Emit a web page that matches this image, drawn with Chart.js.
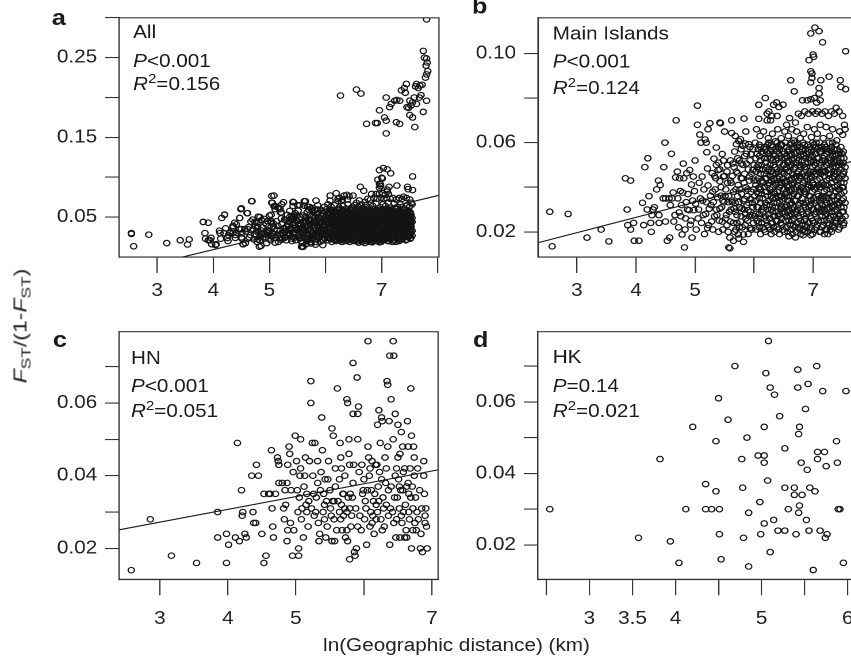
<!DOCTYPE html>
<html>
<head>
<meta charset="utf-8">
<title>Isolation by distance</title>
<script src="https://cdn.jsdelivr.net/npm/chart.js@4.4.1/dist/chart.umd.min.js"></script>
<style>
  html, body { margin: 0; padding: 0; background: #fff; overflow: hidden; }
  body { width: 851px; height: 664px; position: relative; }
  /* the figure is slightly wider than tall, so the whole sheet is stretched */
  #sheet { position: absolute; left: 0; top: 0; width: 780px; height: 664px; transform: scaleX(1.15); transform-origin: 0 0; }
  #sheet canvas { position: absolute; }
  .title { position: absolute; font-family: 'Liberation Sans', Arial, Helvetica, sans-serif; font-size: 18px; color: #222; white-space: nowrap; }
  .title sub { font-size: 0.75em; vertical-align: baseline; position: relative; top: 0.3em; }
  #ytitle { left: 21px; top: 326px; transform: translate(-50%, -50%) rotate(-90deg) scaleX(1.28); }
  #xtitle { left: 397px; top: 645px; transform: translate(-50%, -50%); }
</style>
</head>
<body>
<div id="sheet">
  <canvas id="panelA" width="400" height="300" style="left:0;top:0"></canvas>
  <canvas id="panelB" width="380" height="300" style="left:400px;top:0"></canvas>
  <canvas id="panelC" width="400" height="364" style="left:0;top:300px"></canvas>
  <canvas id="panelD" width="380" height="364" style="left:400px;top:300px"></canvas>
  <div class="title" id="xtitle">ln(Geographic distance) (km)</div>
</div>
<div class="title" id="ytitle"><i>F</i><sub>ST</sub>/(1-<i>F</i><sub>ST</sub>)</div>
<script>
const FONT = "'Liberation Sans', Arial, Helvetica, sans-serif";

// ---- panel statistics ----
const panelLetters = ['a', 'b', 'c', 'd'];
const panelNames = ['All', 'Main Islands', 'HN', 'HK'];
const pValues = ['<0.001', '<0.001', '<0.001', '=0.14'];
const r2Values = ['=0.156', '=0.124', '=0.051', '=0.021'];

// ---- axes ----
const aXTicks = [3, 4, 5, 6, 7, 8];
const aXLabels = ['3', '4', '5', '', '7', ''];
const aYTicks = [0.05, 0.10, 0.15, 0.20, 0.25, 0.30];
const aYLabels = ['0.05', '', '0.15', '', '0.25', ''];
const bXTicks = [3, 4, 5, 6, 7];
const bXLabels = ['3', '4', '5', '', '7'];
const bYTicks = [0.02, 0.04, 0.06, 0.08, 0.10];
const bYLabels = ['0.02', '', '0.06', '', '0.10'];
const cXTicks = [3, 4, 5, 6, 7];
const cXLabels = ['3', '4', '5', '', '7'];
const cYTicks = [0.02, 0.03, 0.04, 0.05, 0.06, 0.07];
const cYLabels = ['0.02', '', '0.04', '', '0.06', ''];
const dXTicks = [2.5, 3, 3.5, 4, 4.5, 5, 5.5, 6];
const dXLabels = ['', '3', '3.5', '4', '', '5', '', '6'];
const dYTicks = [0.02, 0.03, 0.04, 0.05, 0.06, 0.07];
const dYLabels = ['0.02', '', '0.04', '', '0.06', ''];

// ---- regression lines (ends) ----
const allFit = [[2.32, -0.0192], [8.02, 0.0774]];
const mainFit = [[2.34, 0.0151], [7.76, 0.0523]];
const hnFit = [[2.40, 0.0251], [7.09, 0.0416]];

// ---- Main Islands: scattered pairs ----
const mainPoints = [
  [2.54,.029],[2.58,.0135],[2.85,.028],[3.17,.0174],[3.41,.021],[3.54,.0157],[3.82,.044],[3.91,.043],[3.85,.030],[3.86,.023],
  [3.91,.021],[3.96,.024],[3.97,.016],[4.05,.016],[4.11,.033],[4.15,.049],[4.20,.053],[4.13,.023],[4.19,.030],[4.22,.036],
  [4.25,.024],[4.26,.020],[4.27,.0275],[4.29,.030],[4.31,.031],[4.35,.039],[4.38,.043],[4.39,.0275],[4.39,.024],[4.41,.041],
  [4.46,.035],[4.47,.049],[4.49,.060],[4.50,.035],[4.50,.0246],[4.53,.016],[4.56,.035],[4.57,.0174],[4.58,.032],[4.60,.055],
  [4.61,.035],[4.63,.0376],[4.64,.0246],[4.66,.0275],[4.67,.0444],[4.68,.070],[4.70,.047],[4.71,.035],[4.73,.0287],[4.74,.044],
  [4.75,.0383],[4.77,.032],[4.78,.0188],[4.79,.0376],[4.80,.0506],[4.81,.044],[4.82,.013],[4.84,.026],[4.85,.0333],[4.86,.0463],
  [4.88,.0369],[4.90,.0297],[4.91,.0477],[4.92,.0232],[4.94,.0412],[4.95,.0174],[4.97,.0448],[4.98,.0297],[4.99,.0383],[5.00,.052],
  [5.01,.0326],[5.04,.0766],[5.04,.068],[5.05,.026],[5.07,.042],[5.08,.0636],[5.09,.035],[5.10,.060],[5.12,.0448],[5.14,.0275],
  [5.15,.039],[5.17,.0614],[5.19,.0333],[5.20,.0557],[5.21,.0217],[5.21,.0484],[5.22,.0408],[5.24,.0304],[5.25,.0687],[5.26,.0362],
  [5.28,.0246],[5.29,.0463],[5.31,.0333],[5.32,.0528],[5.34,.039],[5.36,.0578],[5.37,.0275],[5.38,.0355],[5.39,.0477],[5.40,.020],
  [5.42,.0427],[5.42,.0304],[5.43,.0687],[5.44,.0362],[5.46,.0549],[5.46,.0246],[5.48,.0448],[5.49,.0333],[5.50,.065],[5.52,.039],
  [5.53,.0275],[5.55,.0499],[5.56,.0333],[5.57,.013],[5.59,.0174],[5.60,.0246],[5.61,.042],[5.62,.0643],[5.63,.0333],[5.64,.0506],
  [5.66,.0304],[5.67,.020],[5.69,.039],[5.70,.0593],[5.71,.0275],[5.72,.0463],[5.73,.0188],[5.74,.0333],[5.74,.0607],[5.76,.039],
  [5.77,.0246],[5.78,.0506],[5.79,.0304],[5.81,.0586],[5.82,.0188],[5.83,.0708],[5.83,.042],[5.84,.0347],[5.86,.065],[5.86,.026],
  [5.87,.0506],[5.89,.039],[5.90,.0297],[5.91,.0593],[5.92,.0448],[5.93,.0217],[5.94,.0347],[5.95,.0549],[5.97,.0275],[5.98,.0477],
  [5.99,.039],[4.72,.022],[4.76,.027],[4.83,.021],[4.87,.030],[4.93,.025],[4.96,.034],[5.02,.021],[5.06,.030],[5.11,.024],
  [5.13,.034],[5.16,.019],[5.18,.028],[5.23,.023],[5.27,.032],[5.30,.021],[5.33,.027],[5.35,.044],[5.41,.025],[5.45,.031],
  [5.47,.021],[5.51,.036],[5.54,.023],[5.58,.029],[5.62,.034],[5.65,.024],[5.68,.029],[5.72,.036],[5.75,.022],[5.78,.027],
  [5.80,.044],[5.85,.023],[5.88,.032],[5.92,.027],[5.96,.021],[5.98,.031],[5.62,.070],[5.42,.069],[5.68,.063],[5.77,.0615],
  [5.85,.0596],[5.93,.058],[5.19,.060],[5.22,.066],[5.59,.0126],[5.65,.016],[5.74,.017],[5.82,.0155],[6.83,.0185],[6.70,.0175],
  [6.96,.0185],[7.25,.019],[7.54,.044],
  [5.30,.038],[5.33,.045],[5.36,.030],[5.40,.051],[5.44,.040],[5.47,.034],[5.50,.045],[5.52,.026],[5.55,.042],[5.57,.036],
  [5.60,.052],[5.61,.030],[5.63,.045],[5.65,.038],[5.67,.056],[5.68,.033],[5.70,.047],[5.71,.024],[5.73,.041],[5.75,.052],
  [5.76,.031],[5.78,.044],[5.79,.037],[5.80,.022],[5.81,.050],[5.82,.034],[5.84,.046],[5.85,.028],[5.86,.040],[5.87,.055],
  [5.88,.036],[5.89,.025],[5.90,.048],[5.91,.033],[5.92,.043],[5.93,.052],[5.94,.029],[5.95,.038],[5.96,.046],[5.97,.033],
  [5.98,.057],[5.99,.024],[6.00,.043],[6.00,.050],[6.01,.036],[6.01,.027],[5.95,.021],[5.90,.019],[5.84,.054],[5.78,.057],
  [5.72,.053],[5.66,.049],[5.60,.043],[5.54,.047],[5.48,.052],[5.42,.048],[5.36,.050],[5.56,.020],[5.69,.021],[5.83,.030],
  [6.96,.109],[7.03,.1116],[7.10,.110],[7.16,.105],[7.55,.101],[6.93,.097],[7.00,.0995],[7.01,.0985],[6.96,.092],[6.98,.091],
  [6.98,.089],[6.96,.087],[7.27,.0896],[7.13,.088],[7.10,.0845],[7.10,.082],[6.62,.088],[6.68,.083],[7.46,.088],[7.47,.085],
  [7.55,.084],[6.82,.079],[6.90,.079],[6.96,.0795],[7.02,.080],[7.06,.078],[7.12,.079],
  [6.08,.077],[6.19,.080],[6.22,.073],[6.25,.074],[6.33,.077],[6.38,.078],[6.42,.076],[6.49,.077],[6.22,.070],[6.28,.070],
  [6.30,.072],[6.39,.072],[6.08,.0707],[6.36,.0606],[6.55,.068],[6.60,.071],[6.64,.066],[6.70,.069],[6.75,.073],[6.80,.072],
  [6.86,.074],[6.92,.073],[6.99,.074],[7.04,.073],[7.08,.074],[7.15,.073],[7.20,.074],[7.26,.072],[7.31,.074],[7.36,.073],
  [7.39,.0756],[7.44,.074],[7.50,.072],[7.53,.068],[7.54,.066],[7.50,.0635],[7.45,.065],[7.40,.061],[7.33,.066],[7.28,.063],
  [7.22,.067],[7.17,.062],[7.12,.068],[7.07,.064],[7.02,.066],[6.97,.0625],[6.90,.067],[6.84,.064],[6.78,.062],[6.72,.065],
  [6.67,.061],[6.58,.063],[6.52,.065],[6.46,.062],[6.40,.066],[6.31,.064],[6.24,.062],[6.16,.065],[6.10,.063],[6.04,.066],[6.02,.060]
];

// ---- Main Islands: dense block, one column of y values per x ----
const mainDenseX = [6.03, 6.07, 6.11, 6.15, 6.19, 6.23, 6.27, 6.31, 6.35, 6.39, 6.43, 6.47, 6.51, 6.55, 6.59, 6.63, 6.67, 6.71, 6.75, 6.79,
  6.83, 6.87, 6.91, 6.95, 6.99, 7.03, 7.07, 7.11, 7.15, 7.19, 7.23, 7.27, 7.31, 7.35, 7.39, 7.43, 7.47, 7.51, 7.54,
  6.05, 6.09, 6.13, 6.17, 6.21, 6.25, 6.29, 6.33, 6.37, 6.41, 6.45, 6.49, 6.53, 6.57, 6.61, 6.65, 6.69, 6.73, 6.77, 6.81,
  6.85, 6.89, 6.93, 6.97, 7.01, 7.05, 7.09, 7.13, 7.17, 7.21, 7.25, 7.29, 7.33, 7.37, 7.41, 7.45, 7.49, 7.52];
const mainDenseY = [
  [.021,.028,.034,.041,.047,.053],
  [.024,.031,.037,.044,.050,.057],
  [.019,.026,.033,.039,.046,.052,.058],
  [.022,.029,.035,.042,.048,.055],
  [.020,.027,.033,.038,.044,.051,.057],
  [.023,.030,.036,.041,.047,.053,.059],
  [.021,.026,.032,.039,.045,.050,.056],
  [.024,.029,.035,.040,.046,.052,.058],
  [.020,.027,.031,.037,.043,.049,.054],
  [.022,.025,.033,.038,.044,.048,.056,.060],
  [.019,.028,.034,.040,.045,.051,.057],
  [.023,.026,.031,.036,.042,.047,.053,.059],
  [.020,.029,.035,.039,.046,.050,.055],
  [.022,.027,.032,.038,.043,.049,.054,.058],
  [.018,.025,.030,.036,.041,.047,.052,.057],
  [.021,.028,.033,.039,.044,.050,.055,.060],
  [.023,.026,.031,.037,.042,.048,.053,.058],
  [.020,.029,.034,.040,.045,.051,.056],
  [.022,.027,.032,.036,.043,.047,.052,.059],
  [.019,.025,.030,.038,.044,.049,.054,.058],
  [.021,.028,.033,.039,.042,.050,.055,.060],
  [.023,.026,.031,.037,.045,.048,.053,.057],
  [.020,.029,.034,.040,.043,.051,.056,.059],
  [.022,.027,.032,.036,.044,.047,.052,.058],
  [.019,.025,.030,.038,.042,.049,.054,.060],
  [.021,.028,.033,.039,.045,.050,.055,.058],
  [.023,.026,.031,.037,.043,.048,.053,.057],
  [.020,.029,.034,.040,.044,.051,.056,.060],
  [.022,.027,.032,.036,.042,.047,.052,.058],
  [.019,.025,.030,.038,.045,.049,.054,.059],
  [.021,.028,.033,.039,.043,.050,.055,.057],
  [.023,.026,.031,.037,.044,.048,.053,.060],
  [.020,.029,.034,.040,.042,.051,.056,.058],
  [.022,.027,.032,.036,.045,.047,.052,.057],
  [.024,.025,.030,.038,.043,.049,.054,.059],
  [.021,.028,.033,.039,.044,.050,.055],
  [.025,.031,.037,.042,.048,.053,.058],
  [.023,.029,.035,.040,.046,.051,.056],
  [.027,.033,.044,.049],
  [.025,.031,.038,.043,.049,.055],
  [.022,.028,.035,.040,.048,.054,.059],
  [.024,.030,.037,.043,.050,.056],
  [.021,.026,.031,.040,.046,.053,.058],
  [.025,.032,.038,.044,.049,.056],
  [.022,.028,.034,.042,.048,.055,.060],
  [.019,.024,.030,.036,.043,.047,.053,.059],
  [.022,.027,.033,.038,.044,.050,.055],
  [.025,.029,.035,.041,.046,.052,.057],
  [.021,.027,.031,.036,.042,.047,.053,.058],
  [.024,.030,.036,.041,.048,.054,.059],
  [.021,.028,.034,.039,.044,.050,.056],
  [.025,.031,.037,.042,.048,.053,.060],
  [.020,.029,.034,.040,.045,.051,.056],
  [.023,.027,.032,.038,.043,.049,.054,.059],
  [.019,.025,.030,.036,.041,.046,.052,.057],
  [.022,.028,.034,.039,.044,.049,.055,.060],
  [.024,.030,.036,.041,.046,.053,.058],
  [.021,.026,.033,.039,.045,.050,.056],
  [.023,.029,.035,.040,.046,.052,.057],
  [.020,.025,.032,.038,.043,.049,.054,.059],
  [.022,.028,.033,.039,.044,.049,.055],
  [.024,.031,.036,.041,.046,.053,.057],
  [.021,.026,.034,.040,.045,.051,.056],
  [.024,.030,.035,.041,.047,.052,.059],
  [.022,.029,.034,.040,.046,.051,.055,.060],
  [.025,.031,.036,.041,.047,.053,.058],
  [.020,.025,.030,.035,.040,.046,.050,.056],
  [.023,.029,.035,.041,.047,.053,.057],
  [.021,.027,.032,.036,.041,.047,.052,.058],
  [.024,.030,.035,.041,.046,.051,.056],
  [.021,.027,.033,.039,.046,.052,.057],
  [.023,.031,.036,.044,.049,.054,.060],
  [.024,.029,.034,.040,.046,.051,.055],
  [.026,.032,.036,.041,.047,.052,.057],
  [.022,.027,.033,.039,.044,.051,.056],
  [.026,.029,.034,.040,.045,.050,.055],
  [.024,.031,.038,.042,.047,.053]
];

// ---- HN ----
const hnPoints = [
  [2.58,.014],[2.86,.028],[3.17,.018],[3.54,.016],[3.85,.030],[3.85,.023],[3.98,.016],[3.98,.024],[4.01,.021],[4.11,.023],
  [4.14,.049],[4.17,.022],[4.20,.036],[4.21,.029],[4.22,.030],[4.25,.024],[4.27,.023],[4.37,.030],[4.35,.040],[4.42,.043],
  [4.45,.040],[4.38,.027],[4.41,.027],[4.50,.024],[4.53,.035],[4.56,.018],[4.53,.016],[4.60,.035],[4.62,.035],[4.64,.047],
  [4.65,.031],[4.66,.026],[4.67,.023],[4.70,.035],[4.73,.045],[4.74,.044],[4.75,.043],[4.75,.038],[4.80,.038],[4.83,.028],
  [4.84,.036],[4.85,.032],[4.87,.022],[4.87,.038],[4.88,.025],[4.88,.043],[4.90,.048],[4.91,.046],[4.93,.036],[4.95,.018],
  [4.97,.025],[4.99,.051],[5.01,.044],[5.03,.030],[5.04,.020],[5.04,.018],[5.05,.034],[5.06,.040],[5.07,.042],[5.07,.050],
  [5.09,.031],[5.11,.023],[5.12,.037],[5.14,.045],[5.15,.032],[5.16,.035],[5.16,.030],[5.19,.033],[5.22,.066],[5.22,.060],
  [5.24,.049],[5.25,.040],[5.26,.035],[5.27,.029],[5.28,.049],[5.29,.030],[5.32,.038],[5.32,.044],[5.34,.022],[5.35,.024],
  [5.36,.036],[5.38,.056],[5.39,.047],[5.40,.030],[5.41,.035],[5.42,.028],[5.43,.039],[5.44,.023],[5.45,.033],[5.47,.039],
  [5.50,.036],[5.51,.031],[5.53,.022],[5.53,.053],[5.54,.033],[5.55,.051],[5.56,.028],[5.56,.033],[5.57,.022],[5.58,.042],
  [5.61,.064],[5.64,.039],[5.64,.030],[5.65,.049],[5.66,.028],[5.67,.042],[5.67,.032],[5.68,.025],[5.69,.035],[5.70,.035],
  [5.72,.031],[5.73,.023],[5.75,.061],[5.75,.030],[5.75,.025],[5.76,.022],[5.76,.060],[5.78,.050],[5.78,.046],[5.79,.031],
  [5.79,.017],[5.79,.043],[5.80,.035],[5.82,.029],[5.83,.034],[5.84,.071],[5.84,.057],[5.85,.043],[5.86,.019],[5.87,.018],
  [5.89,.020],[5.90,.067],[5.91,.050],[5.91,.057],[5.92,.059],[5.94,.029],[5.91,.026],[5.97,.043],[5.98,.035],[5.99,.036],
  [6.01,.028],[6.02,.033],[6.04,.021],[6.06,.048],[6.06,.077],[6.07,.045],[6.08,.040],[6.09,.026],[6.10,.030],[6.11,.036],
  [6.12,.044],[6.13,.029],[6.14,.033],[6.15,.024],[6.17,.043],[6.18,.032],[6.18,.028],[6.19,.043],[6.20,.054],[6.21,.037],
  [6.22,.033],[6.22,.058],[6.24,.049],[6.25,.028],[6.26,.039],[6.26,.056],[6.27,.055],[6.28,.034],[6.30,.026],[6.31,.045],
  [6.32,.038],[6.33,.032],[6.34,.066],[6.35,.065],[6.35,.048],[6.36,.036],[6.37,.055],[6.38,.021],[6.38,.073],[6.39,.031],
  [6.40,.061],[6.42,.030],[6.43,.050],[6.43,.077],[6.44,.073],[6.45,.034],[6.46,.057],[6.47,.023],[6.48,.042],[6.48,.028],
  [6.50,.054],[6.50,.045],[6.51,.039],[6.52,.031],[6.53,.023],[6.53,.046],[6.54,.036],[6.55,.052],[6.56,.027],[6.57,.036],
  [6.57,.048],[6.58,.030],[6.60,.023],[6.60,.042],[6.62,.025],[6.63,.023],[6.64,.055],[6.65,.038],[6.65,.048],[6.66,.035],
  [6.67,.028],[6.68,.042],[6.69,.064],[6.70,.051],[6.70,.020],[6.71,.037],[6.72,.025],[6.73,.048],[6.74,.040],[6.75,.027],
  [6.77,.025],[6.79,.042],[6.80,.028],[6.83,.020],[6.88,.044],[6.88,.040],[6.90,.027],[6.90,.029],[6.91,.031],[6.86,.019],
  [6.93,.020],
  [4.82,.031],[4.92,.027],[4.96,.041],[5.02,.036],[5.08,.028],[5.13,.040],[5.18,.026],[5.20,.044],[5.23,.031],[5.30,.034],
  [5.33,.027],[5.37,.041],[5.42,.032],[5.46,.026],[5.48,.044],[5.52,.029],[5.58,.037],[5.60,.025],[5.62,.033],[5.66,.045],
  [5.70,.029],[5.72,.040],[5.77,.034],[5.81,.026],[5.84,.038],[5.88,.031],[5.93,.041],[5.96,.025],[6.00,.039],[6.03,.031],
  [6.05,.036],[6.09,.042],[6.12,.027],[6.16,.035],[6.20,.030],[6.23,.041],[6.27,.025],[6.29,.031],[6.33,.042],[6.36,.029],
  [6.40,.037],[6.44,.027],[6.46,.040],[6.49,.034],[6.52,.037],[6.55,.029],[6.58,.041],[6.61,.032],[6.63,.037],[6.66,.030],
  [6.69,.034],[6.72,.031],[6.74,.045],[6.76,.034],[6.78,.030],[6.82,.036],[6.85,.031],[6.89,.035],[6.92,.026],[6.84,.024]
];

// ---- HK ----
const hkPoints = [
  [2.54,.030],[3.57,.022],[3.82,.044],[3.94,.021],[4.04,.015],[4.12,.030],[4.20,.053],[4.35,.037],[4.35,.030],[4.42,.030],
  [4.47,.035],[4.47,.049],[4.50,.061],[4.51,.030],[4.51,.023],[4.53,.016],[4.61,.055],[4.69,.070],[4.77,.044],[4.78,.036],
  [4.79,.022],[4.83,.050],[4.85,.029],[4.85,.014],[4.96,.045],[4.98,.032],[4.99,.023],[5.03,.045],[5.03,.043],[5.03,.053],
  [5.03,.026],[5.05,.068],[5.07,.038],[5.08,.077],[5.10,.064],[5.10,.018],[5.14,.027],[5.15,.062],[5.19,.024],[5.21,.056],
  [5.27,.024],[5.27,.047],[5.27,.036],[5.31,.030],[5.38,.036],[5.38,.034],[5.40,.023],[5.42,.064],[5.42,.069],[5.43,.029],
  [5.43,.051],[5.44,.053],[5.44,.031],[5.46,.043],[5.47,.034],[5.51,.058],[5.52,.027],[5.53,.041],[5.54,.065],[5.55,.024],
  [5.56,.036],[5.60,.013],[5.62,.035],[5.64,.070],[5.65,.044],[5.65,.046],[5.68,.024],[5.71,.063],[5.73,.046],[5.74,.022],
  [5.75,.042],[5.76,.023],[5.87,.049],[5.88,.043],[5.89,.030],[5.91,.030],[5.95,.015],[5.98,.063]
];

// ---- All: pairs only seen in panel a (the high group) ----
const allExtra = [
  [7.80,.298],[7.74,.2585],[7.76,.250],[7.80,.249],[7.81,.244],[7.79,.240],[7.82,.233],[7.80,.229],[7.78,.225],[7.72,.216],
  [6.265,.2025],[6.55,.210],[6.63,.205],[7.08,.200],[7.14,.188],[7.17,.192],[7.23,.196],[7.27,.197],[7.32,.196],[7.35,.209],
  [7.40,.212],[7.44,.217],[7.42,.206],[7.50,.196],[7.55,.194],[7.62,.192],[7.58,.200],[7.62,.217],[7.60,.214],[7.67,.200],
  [7.70,.203],[7.80,.196],[7.74,.182],[7.50,.178],[7.55,.175],[7.59,.163],[6.73,.167],[6.89,.168],[6.92,.168],[6.96,.184],
  [7.05,.175],[7.08,.171],[7.08,.155],[7.26,.169],[7.32,.167],[7.48,.187],[7.52,.190],[7.45,.188],[7.65,.212],[7.68,.215]
];

const mainDense = mainDenseX.flatMap((x, i) => mainDenseY[i].map(y => [x, y]));
const mainAll = mainPoints.concat(mainDense);
const allPoints = mainAll.concat(hkPoints, allExtra);

// ---- drawing ----
Chart.defaults.font.family = FONT;
Chart.defaults.font.size = 18;
Chart.defaults.color = '#222';
Chart.defaults.animation = false;

function drawRuns(ctx, runs, x, y) {
  runs.forEach(r => {
    ctx.font = (r.italic ? 'italic ' : '') + (r.sup ? 13 : 18) + 'px ' + FONT;
    ctx.fillText(r.text, x, r.sup ? y - 7 : y);
    x += ctx.measureText(r.text).width;
  });
}

// box around the plot, panel letter and the statistics text
const panelDecor = {
  id: 'panelDecor',
  afterDraw(chart, args, opts) {
    const { ctx, chartArea: ca } = chart;
    ctx.save();
    ctx.strokeStyle = '#333';
    ctx.lineWidth = 1.1;
    ctx.strokeRect(ca.left, ca.top, ca.right - ca.left, ca.bottom - ca.top);
    ctx.fillStyle = '#1a1a1a';
    ctx.textAlign = 'left';
    ctx.textBaseline = 'alphabetic';
    ctx.font = 'bold 22px ' + FONT;
    ctx.fillText(panelLetters[opts.index], opts.letterAt[0], opts.letterAt[1]);
    const [tx, y1, y2, y3] = opts.textAt;
    drawRuns(ctx, [{ text: panelNames[opts.index] }], tx, y1);
    drawRuns(ctx, [{ text: 'P', italic: true }, { text: pValues[opts.index] }], tx, y2);
    drawRuns(ctx, [{ text: 'R', italic: true }, { text: '2', sup: true }, { text: r2Values[opts.index] }], tx, y3);
    ctx.restore();
  }
};

const toXY = pts => pts.map(([x, y]) => ({ x, y }));

function makePanel(id, p) {
  const canvas = document.getElementById(id);
  const W = canvas.width, H = canvas.height;
  const datasets = [{
    data: toXY(p.points),
    pointStyle: 'circle',
    pointRadius: 2.75,
    borderWidth: 1.15,
    borderColor: '#141414',
    backgroundColor: 'rgba(0,0,0,0)'
  }];
  if (p.fit) {
    datasets.push({
      data: toXY(p.fit),
      showLine: true,
      pointRadius: 0,
      borderColor: '#141414',
      borderWidth: 1.1
    });
  }
  new Chart(canvas, {
    type: 'scatter',
    data: { datasets },
    plugins: [panelDecor],
    options: {
      responsive: false,
      devicePixelRatio: 2,
      events: [],
      layout: { padding: { left: 0, top: p.area[1], right: W - p.area[2], bottom: 0 } },
      plugins: {
        legend: { display: false },
        tooltip: { enabled: false },
        panelDecor: { index: p.index, letterAt: p.letterAt, textAt: p.textAt }
      },
      scales: {
        x: {
          type: 'linear',
          min: p.xRange[0],
          max: p.xRange[1],
          afterFit: s => { s.height = H - p.area[3]; },
          afterBuildTicks: s => { s.ticks = p.xTicks.map(v => ({ value: v })); },
          ticks: { autoSkip: false, maxRotation: 0, padding: p.xPad, color: '#222', callback: (v, i) => p.xLabels[i] },
          grid: { drawOnChartArea: false, tickLength: 16, color: '#333', lineWidth: 1.1 },
          border: { color: '#333', width: 1.1 }
        },
        y: {
          type: 'linear',
          min: p.yRange[0],
          max: p.yRange[1],
          afterFit: s => { s.width = p.area[0]; },
          afterBuildTicks: s => { s.ticks = p.yTicks.map(v => ({ value: v })); },
          ticks: { autoSkip: false, padding: 7, color: '#222', callback: (v, i) => p.yLabels[i] },
          grid: { drawOnChartArea: false, tickLength: 12, color: '#333', lineWidth: 1.1 },
          border: { color: '#333', width: 1.1 }
        }
      }
    }
  });
}

makePanel('panelA', {
  index: 0, points: allPoints, fit: allFit,
  area: [103.5, 15, 381.7, 257],
  xRange: [2.32, 8.02], yRange: [0, 0.30], xPad: 7,
  xTicks: aXTicks, xLabels: aXLabels, yTicks: aYTicks, yLabels: aYLabels,
  letterAt: [45, 25], textAt: [115.7, 38, 67, 90]
});
makePanel('panelB', {
  index: 1, points: mainAll, fit: mainFit,
  area: [67.8, 9, 346.1, 257],
  xRange: [2.34, 7.76], yRange: [0.0087, 0.116], xPad: 7,
  xTicks: bXTicks, xLabels: bXLabels, yTicks: bYTicks, yLabels: bYLabels,
  letterAt: [10.4, 13.5], textAt: [80.6, 39.5, 67.5, 94]
});
makePanel('panelC', {
  index: 2, points: hnPoints, fit: hnFit,
  area: [103.5, 31.7, 380.9, 279.3],
  xRange: [2.40, 7.09], yRange: [0.0115, 0.0796], xPad: 13,
  xTicks: cXTicks, xLabels: cXLabels, yTicks: cYTicks, yLabels: cYLabels,
  letterAt: [46, 47], textAt: [113.9, 64, 92, 117]
});
makePanel('panelD', {
  index: 3, points: hkPoints, fit: null,
  area: [67.6, 31.7, 346.1, 279.3],
  xRange: [2.40, 6.12], yRange: [0.0104, 0.0796], xPad: 13,
  xTicks: dXTicks, xLabels: dXLabels, yTicks: dYTicks, yLabels: dYLabels,
  letterAt: [11.3, 47], textAt: [80.6, 63, 92, 117]
});
</script>
</body>
</html>
